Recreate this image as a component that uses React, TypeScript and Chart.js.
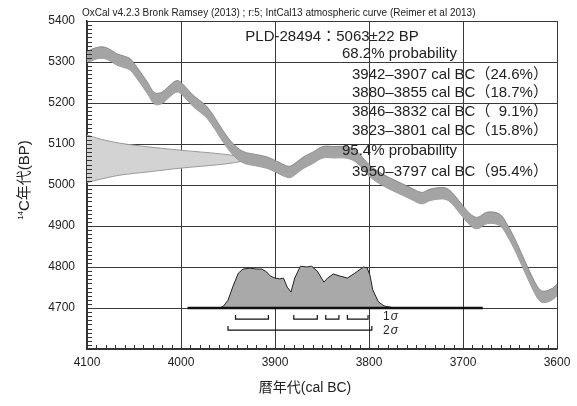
import React, { useEffect, useRef } from 'react';
import { Chart, registerables } from 'chart.js';
Chart.register(...registerables);

// Calibration curve (IntCal13) centre line
const calYears = [4100, 4092, 4083, 4075, 4068, 4060, 4054, 4047, 4036, 4028, 4020, 4012, 4004, 3998, 3987, 3972, 3955, 3945, 3934, 3919, 3909, 3898, 3889, 3884, 3878, 3870, 3860, 3849, 3838, 3823, 3813, 3799, 3785, 3770, 3756, 3744, 3735, 3721, 3714, 3703, 3693, 3685, 3674, 3661, 3653, 3643, 3632, 3621, 3615, 3605, 3600];
const calBP = [5311, 5320, 5323, 5316, 5306, 5300, 5294, 5274, 5238, 5211, 5213, 5229, 5241, 5232, 5205, 5176, 5118, 5088, 5068, 5060, 5055, 5044, 5034, 5032, 5040, 5054, 5066, 5080, 5080, 5079, 5068, 5034, 5012, 4995, 4980, 4968, 4976, 4980, 4973, 4944, 4917, 4907, 4920, 4915, 4890, 4846, 4790, 4739, 4727, 4734, 4744];
const calHalfWidth = 14;

// Radiocarbon date distribution on the y axis (outline points)
const gaussYears = [4100, 4086, 4065, 4035, 4001, 3958, 3937, 3930, 3937, 3958, 4001, 4035, 4065, 4086, 4100];
const gaussBP = [5122, 5112, 5102, 5093, 5085, 5076, 5069, 5063, 5057, 5050, 5041, 5032, 5024, 5014, 5006];

// Calibrated probability distribution (height expressed in BP units above 4700)
const distYears = [3965, 3958, 3955, 3950, 3945, 3939, 3934, 3927, 3919, 3914, 3909, 3905, 3900, 3895, 3891, 3887, 3883, 3879, 3873, 3866, 3861, 3855, 3848, 3844, 3838, 3831, 3823, 3815, 3806, 3802, 3799, 3796, 3790, 3784, 3775, 3760];
const distBP = [4700, 4701, 4704, 4719, 4751, 4785, 4795, 4797, 4795, 4795, 4788, 4778, 4773, 4771, 4773, 4751, 4739, 4773, 4802, 4800, 4802, 4790, 4763, 4773, 4783, 4778, 4773, 4785, 4800, 4798, 4780, 4744, 4715, 4705, 4701, 4700];

const baselineYears = [3993, 3679];
const baselineBP = [4700, 4700];

const sigma1Ranges = [[3942, 3907], [3880, 3855], [3846, 3832], [3823, 3801]];
const sigma2Ranges = [[3950, 3797]];
const sigma1Levels = [4683, 4673];
const sigma2Levels = [4656, 4646];

const xMin = 3600;
const xMax = 4100;
const yMin = 4600;
const yMax = 5400;

const titleText = 'OxCal v4.2.3 Bronk Ramsey (2013) ; r:5; IntCal13 atmospheric curve (Reimer et al 2013)';
const sampleText = 'PLD-28494：5063±22 BP';
const prob68Text = '68.2% probability';
const prob68Lines = ['3942–3907 cal BC（24.6%）', '3880–3855 cal BC（18.7%）', '3846–3832 cal BC（\u20079.1%）', '3823–3801 cal BC（15.8%）'];
const prob95Text = '95.4% probability';
const prob95Lines = ['3950–3797 cal BC（95.4%）'];
const xTitle = '暦年代(cal BC)';
const yTitleSup = '14';
const yTitleMain = 'C年代(BP)';

const FONT = "'Liberation Sans', 'Noto Sans CJK JP', sans-serif";

function bracketPoints(ranges: number[][], levels: number[]) {
  const pts: { x: number; y: number | null }[] = [];
  ranges.forEach(([a, b]) => {
    pts.push({ x: a, y: levels[0] });
    pts.push({ x: a, y: levels[1] });
    pts.push({ x: b, y: levels[1] });
    pts.push({ x: b, y: levels[0] });
    pts.push({ x: b, y: null });
  });
  return pts;
}

const overlayPlugin = {
  id: 'overlay',
  afterDraw(chart: any) {
    const { ctx, chartArea, scales } = chart;
    const xs = scales.x;
    const ys = scales.y;
    ctx.save();
    // minor ticks
    ctx.strokeStyle = '#333';
    ctx.lineWidth = 1;
    ctx.beginPath();
    for (let v = yMin; v <= yMax; v += 10) {
      const py = Math.round(ys.getPixelForValue(v)) + 0.5;
      ctx.moveTo(chartArea.left, py);
      ctx.lineTo(chartArea.left + 5, py);
    }
    for (let v = xMin; v <= xMax; v += 10) {
      const px = Math.round(xs.getPixelForValue(v)) + 0.5;
      ctx.moveTo(px, chartArea.bottom);
      ctx.lineTo(px, chartArea.bottom - 4);
    }
    ctx.stroke();

    ctx.fillStyle = '#222';
    ctx.textBaseline = 'middle';
    // title
    ctx.textAlign = 'left';
    ctx.font = `10px ${FONT}`;
    ctx.fillText(titleText, 82, 13);
    // sample line
    ctx.textAlign = 'center';
    ctx.font = `15px ${FONT}`;
    ctx.fillText(sampleText, 332, 37);
    ctx.textAlign = 'left';
    ctx.font = `15px ${FONT}`;
    ctx.fillText(prob68Text, 342, 54);
    const lineYs = [75, 93, 112, 131];
    prob68Lines.forEach((t, i) => ctx.fillText(t, 352, lineYs[i]));
    ctx.fillText(prob95Text, 342, 151);
    prob95Lines.forEach((t) => ctx.fillText(t, 352, 172));

    // sigma labels
    const sx = xs.getPixelForValue(3785);
    [['1', 4678], ['2', 4644]].forEach(([n, v]) => {
      const py = ys.getPixelForValue(v as number);
      ctx.font = `12px ${FONT}`;
      ctx.fillText(n as string, sx, py);
      const w = ctx.measureText(n as string).width;
      ctx.font = `italic 12px ${FONT}`;
      ctx.fillText('σ', sx + w + 1, py);
    });

    // axis titles
    ctx.font = `14px ${FONT}`;
    ctx.textAlign = 'center';
    ctx.fillText(xTitle, 305, 388);

    ctx.translate(25, 180);
    ctx.rotate(-Math.PI / 2);
    ctx.font = `15px ${FONT}`;
    const wMain = ctx.measureText(yTitleMain).width;
    ctx.font = `8px ${FONT}`;
    const wSup = ctx.measureText(yTitleSup).width;
    const total = wMain + wSup;
    ctx.textAlign = 'left';
    ctx.fillText(yTitleSup, -total / 2, -4);
    ctx.font = `15px ${FONT}`;
    ctx.fillText(yTitleMain, -total / 2 + wSup, 0);
    ctx.restore();
  },
};

export default function App() {
  const ref = useRef<HTMLCanvasElement | null>(null);
  useEffect(() => {
    if (!ref.current) return;
    const upper = calYears.map((x, i) => ({ x, y: calBP[i] + calHalfWidth }));
    const lower = calYears.map((x, i) => ({ x, y: calBP[i] - calHalfWidth }));
    const gauss = gaussYears.map((x, i) => ({ x, y: gaussBP[i] }));
    const dist = distYears.map((x, i) => ({ x, y: distBP[i] }));
    const base = baselineYears.map((x, i) => ({ x, y: baselineBP[i] }));
    const chart = new Chart(ref.current, {
      type: 'line',
      data: {
        datasets: [
          {
            data: upper as any,
            borderColor: '#7d7d7d',
            borderWidth: 0.8,
            backgroundColor: '#a4a4a4',
            fill: '+1',
            tension: 0.35,
            pointRadius: 0,
            order: 4,
          },
          {
            data: lower as any,
            borderColor: '#7d7d7d',
            borderWidth: 0.8,
            backgroundColor: 'transparent',
            fill: false,
            tension: 0.35,
            pointRadius: 0,
            order: 4,
          },
          {
            data: gauss as any,
            borderColor: '#9a9a9a',
            borderWidth: 1,
            backgroundColor: '#d3d3d3',
            fill: 'shape' as any,
            tension: 0.3,
            pointRadius: 0,
            order: 6,
          },
          {
            data: dist as any,
            borderColor: '#222',
            borderWidth: 1,
            backgroundColor: '#a9a9a9',
            fill: { value: 4700 } as any,
            tension: 0,
            pointRadius: 0,
            order: 3,
          },
          {
            data: base as any,
            borderColor: '#111',
            borderWidth: 2.5,
            fill: false,
            pointRadius: 0,
            order: 2,
          },
          {
            data: bracketPoints(sigma1Ranges, sigma1Levels) as any,
            borderColor: '#111',
            borderWidth: 1.2,
            fill: false,
            pointRadius: 0,
            spanGaps: false,
            order: 1,
          },
          {
            data: bracketPoints(sigma2Ranges, sigma2Levels) as any,
            borderColor: '#111',
            borderWidth: 1.2,
            fill: false,
            pointRadius: 0,
            spanGaps: false,
            order: 1,
          },
        ],
      },
      options: {
        animation: false,
        responsive: true,
        maintainAspectRatio: false,
        layout: { padding: { top: 21, right: 20, left: 0, bottom: 0 } },
        plugins: { legend: { display: false }, tooltip: { enabled: false }, title: { display: false } },
        scales: {
          x: {
            type: 'linear',
            min: xMin,
            max: xMax,
            reverse: true,
            position: 'bottom',
            z: 1,
            afterFit: (s: any) => { s.height = 57; },
            grid: { color: '#3a3a3a', lineWidth: 1, drawTicks: false },
            border: { display: true, color: '#333', width: 1.5 },
            ticks: {
              stepSize: 100,
              autoSkip: false,
              maxRotation: 0,
              padding: 6,
              color: '#222',
              font: { size: 12, family: FONT },
              callback: (v: any) => String(v),
            },
          },
          y: {
            type: 'linear',
            min: yMin,
            max: yMax,
            z: 1,
            afterFit: (s: any) => { s.width = 87; },
            grid: { color: '#3a3a3a', lineWidth: 1, drawTicks: false },
            border: { display: true, color: '#333', width: 1.5 },
            ticks: {
              stepSize: 100,
              autoSkip: false,
              padding: 12,
              color: '#222',
              font: { size: 12, family: FONT },
              callback: (v: any) => (v === yMin ? '' : String(v)),
            },
          },
        },
      },
      plugins: [overlayPlugin],
    });
    return () => chart.destroy();
  }, []);
  return (
    <div style={{ position: 'absolute', left: 0, top: 0, width: 577, height: 406, background: '#fff' }}>
      <canvas ref={ref} />
    </div>
  );
}
